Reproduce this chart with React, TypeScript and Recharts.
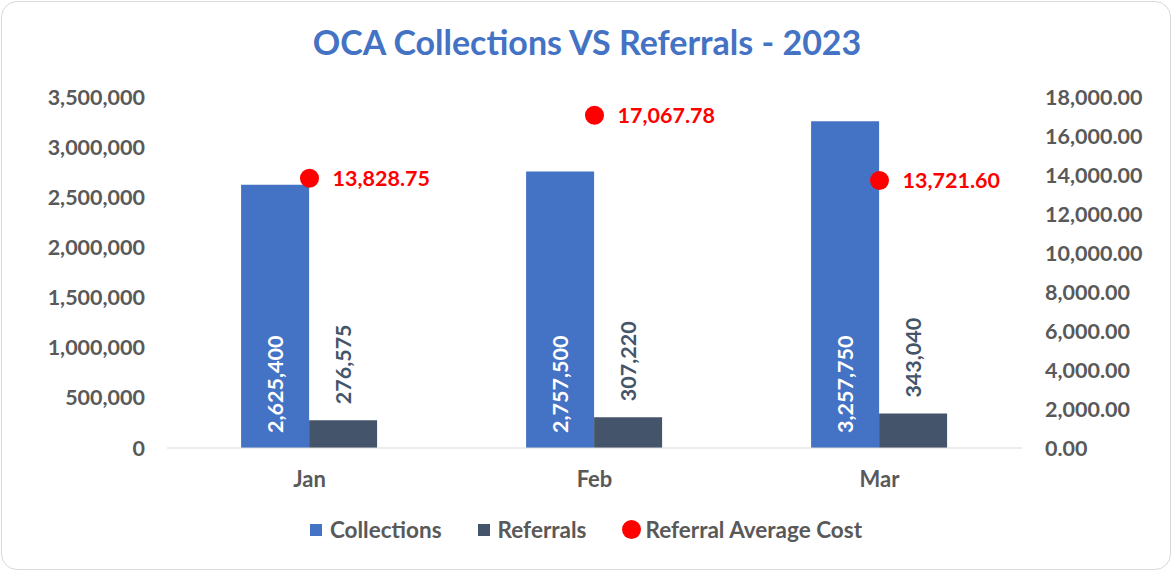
import React from 'react';
import { ComposedChart, Bar, Scatter, XAxis, YAxis, Legend, LabelList } from 'recharts';

const months = ['Jan', 'Feb', 'Mar'];
const collections = [2625400, 2757500, 3257750];
const referrals = [276575, 307220, 343040];
const avgCost = [13828.75, 17067.78, 13721.6];

const leftTicks = [0, 500000, 1000000, 1500000, 2000000, 2500000, 3000000, 3500000];
const rightTicks = [0, 2000, 4000, 6000, 8000, 10000, 12000, 14000, 16000, 18000];

const data = months.map((month, i) => ({
  month,
  collections: collections[i],
  referrals: referrals[i],
  avgCost: avgCost[i],
}));

const FONT = 'Lato, "Open Sans", sans-serif';
const GREY = '#595959';
const LABEL_SIZE = 21.5;

const fmtInt = (v: number) => v.toLocaleString('en-US');
const fmtDec = (v: number) =>
  v.toLocaleString('en-US', { minimumFractionDigits: 2, maximumFractionDigits: 2 });

const CollectionsLabel = (props: any) => {
  const { x, y, width, height, value } = props;
  const cx = x + width / 2;
  const by = y + height - 15;
  return (
    <text
      x={cx}
      y={by}
      transform={`rotate(-90 ${cx} ${by})`}
      textAnchor="start"
      dominantBaseline="central"
      fill="#ffffff"
      fontSize={LABEL_SIZE}
      fontWeight={700}
      fontFamily={FONT}
    >
      {fmtInt(value)}
    </text>
  );
};

const ReferralsLabel = (props: any) => {
  const { x, y, width, value } = props;
  const cx = x + width / 2;
  const by = y - 16;
  return (
    <text
      x={cx}
      y={by}
      transform={`rotate(-90 ${cx} ${by})`}
      textAnchor="start"
      dominantBaseline="central"
      fill="#44546A"
      fontSize={LABEL_SIZE}
      fontWeight={700}
      fontFamily={FONT}
    >
      {fmtInt(value)}
    </text>
  );
};

const CostLabel = (props: any) => {
  const { x, y, width, height, value } = props;
  const cx = x + (width || 0) / 2;
  const cy = y + (height || 0) / 2;
  return (
    <text
      x={cx + 23}
      y={cy}
      dominantBaseline="central"
      fill="#FF0000"
      fontSize={LABEL_SIZE}
      fontWeight={700}
      fontFamily={FONT}
    >
      {fmtDec(value)}
    </text>
  );
};

const Dot = (props: any) => {
  const { cx, cy } = props;
  return <circle cx={cx} cy={cy} r={9.5} fill="#FF0000" />;
};

const legendItems = [
  { name: 'Collections', color: '#4472C4', shape: 'square' },
  { name: 'Referrals', color: '#44546A', shape: 'square' },
  { name: 'Referral Average Cost', color: '#FF0000', shape: 'circle' },
];

const LegendContent = () => (
  <div
    style={{
      display: 'flex',
      justifyContent: 'center',
      gap: 36,
      fontFamily: FONT,
      fontWeight: 700,
      fontSize: 22.5,
      color: GREY,
      paddingTop: 18,
    }}
  >
    {legendItems.map((it) => (
      <div key={it.name} style={{ display: 'flex', alignItems: 'center' }}>
        <span
          style={{
            display: 'inline-block',
            width: it.shape === 'circle' ? 19 : 12,
            height: it.shape === 'circle' ? 19 : 12,
            borderRadius: it.shape === 'circle' ? '50%' : 0,
            background: it.color,
            marginRight: it.shape === 'circle' ? 4 : 8,
          }}
        />
        {it.name}
      </div>
    ))}
  </div>
);

export default function App() {
  return (
    <div
      style={{
        position: 'absolute',
        left: 0,
        top: 0,
        width: 1172,
        height: 571,
        background: '#fff',
      }}
    >
      <div
        style={{
          position: 'absolute',
          left: 1,
          top: 1,
          width: 1168,
          height: 567,
          border: '1px solid #D9D9D9',
          borderRadius: 16,
        }}
      />
      <div
        style={{
          position: 'absolute',
          left: 0,
          top: 21,
          width: 1174,
          textAlign: 'center',
          fontFamily: FONT,
          fontWeight: 700,
          fontSize: 34,
          color: '#4472C4',
        }}
      >
        OCA Collections VS Referrals - 2023
      </div>
      <div style={{ position: 'absolute', left: 0, top: 0 }}>
        <ComposedChart
          width={1172}
          height={571}
          data={data}
          margin={{ top: 97, right: 0, bottom: 0, left: 0 }}
          barCategoryGap="26%"
          barGap={0}
        >
          <XAxis
            dataKey="month"
            axisLine={{ stroke: '#D9D9D9' }}
            tickLine={false}
            tickSize={0}
            tickMargin={23}
            height={50}
            tick={{ fill: GREY, fontSize: 22, fontWeight: 700, fontFamily: FONT }}
          />
          <YAxis
            yAxisId="left"
            orientation="left"
            width={167}
            domain={[0, 3500000]}
            ticks={leftTicks}
            tickFormatter={fmtInt}
            axisLine={false}
            tickLine={false}
            tickSize={0}
            tickMargin={22}
            tick={{ fill: GREY, fontSize: LABEL_SIZE, fontWeight: 700, fontFamily: FONT }}
          />
          <YAxis
            yAxisId="right"
            orientation="right"
            width={150}
            domain={[0, 18000]}
            ticks={rightTicks}
            tickFormatter={fmtDec}
            axisLine={false}
            tickLine={false}
            tickSize={0}
            tickMargin={23}
            tick={{ fill: GREY, fontSize: LABEL_SIZE, fontWeight: 700, fontFamily: FONT, textAnchor: 'start' }}
          />
          <Legend verticalAlign="bottom" content={<LegendContent />} wrapperStyle={{ height: 73 }} />
          <Bar yAxisId="left" dataKey="collections" name="Collections" fill="#4472C4" isAnimationActive={false}>
            <LabelList dataKey="collections" content={<CollectionsLabel />} />
          </Bar>
          <Bar yAxisId="left" dataKey="referrals" name="Referrals" fill="#44546A" isAnimationActive={false}>
            <LabelList dataKey="referrals" content={<ReferralsLabel />} />
          </Bar>
          <Scatter
            yAxisId="right"
            dataKey="avgCost"
            name="Referral Average Cost"
            fill="#FF0000"
            shape={<Dot />}
            isAnimationActive={false}
          >
            <LabelList dataKey="avgCost" content={<CostLabel />} />
          </Scatter>
        </ComposedChart>
      </div>
    </div>
  );
}
